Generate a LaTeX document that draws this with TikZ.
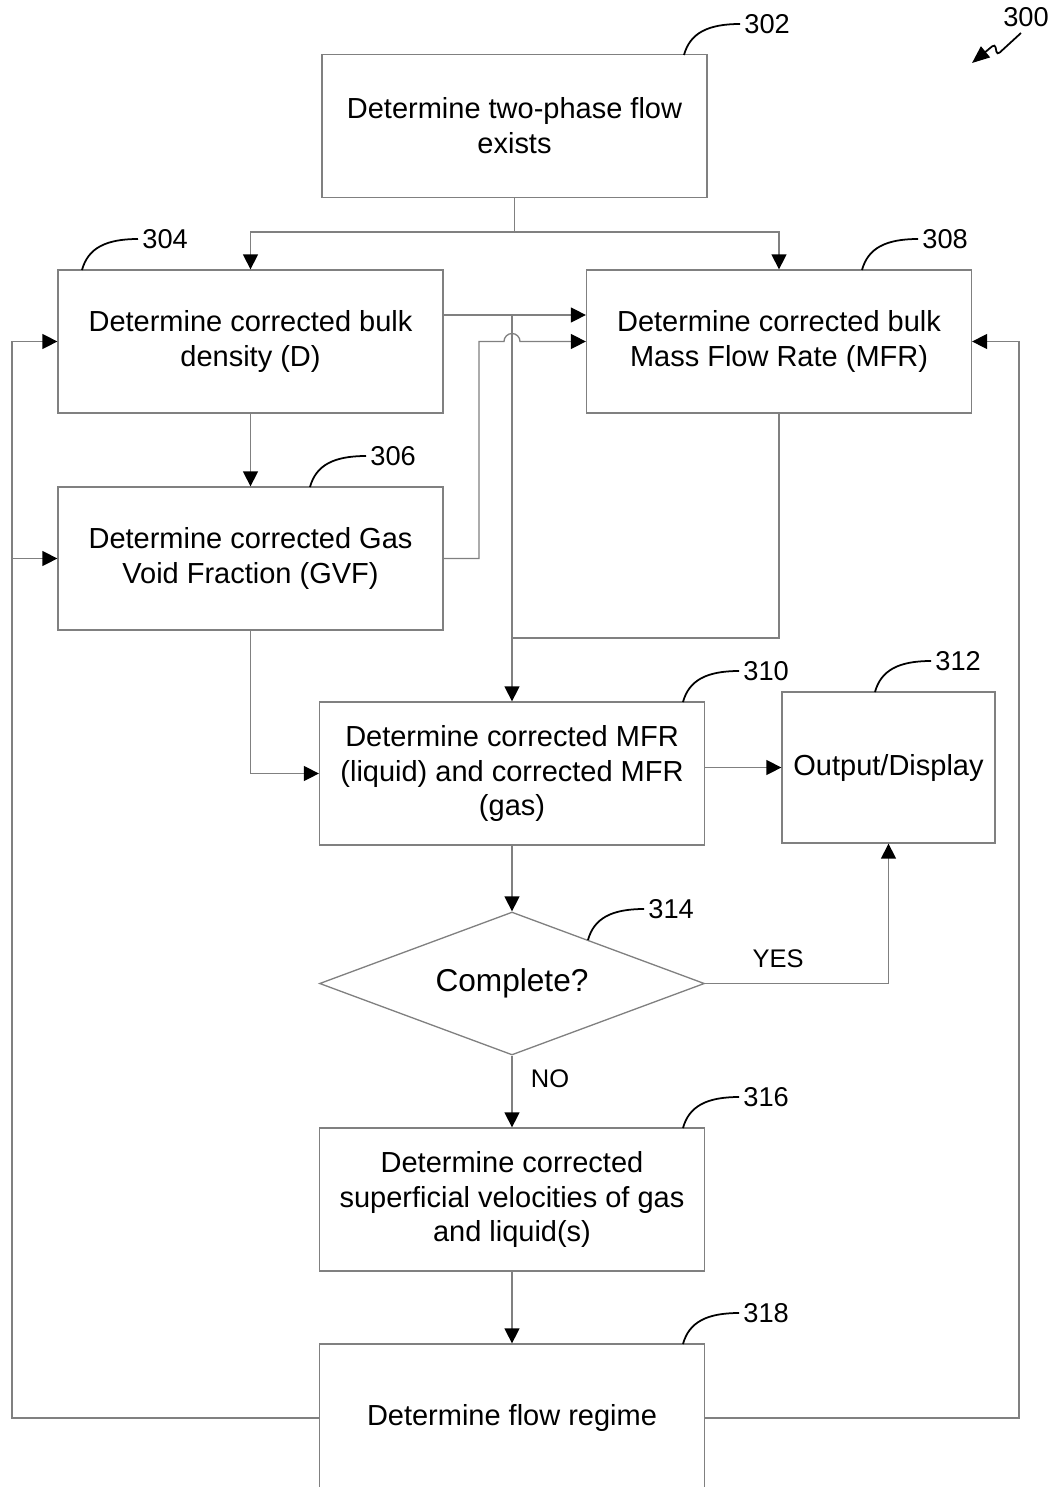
\documentclass[tikz,border=0pt]{standalone}
\usepackage{fontspec}
\setmainfont{Liberation Sans}
\usepackage{tikz}
\usetikzlibrary{
    arrows.meta,
    shapes.geometric,
    positioning
}
\definecolor{boxline}{RGB}{128,128,128}

\begin{document}
\begin{tikzpicture}[x=0.02cm, y=-0.02cm,
    stepbox/.style={draw=boxline, line width=0.75pt, align=center, inner sep=0pt,
        minimum width=7.7cm, minimum height=2.86cm,
        font=\fontsize{16.5}{19.8}\selectfont},
    decision/.style={draw=boxline, line width=0.75pt, shape=diamond, aspect=2.7, inner sep=0pt,
        minimum width=7.7cm, minimum height=2.86cm,
        font=\fontsize{18}{21}\selectfont},
    link/.style={draw=boxline, line width=0.75pt},
    arr/.style={link, -{Triangle[length=8.5pt, width=8.5pt, color=black]}},
    lead/.style={draw=black, line width=1pt},
    refnum/.style={anchor=west, inner sep=2pt, font=\fontsize{15.5}{18}\selectfont},
    answer/.style={font=\fontsize{14.5}{17}\selectfont}
]
    % Page
    \useasboundingbox (0,0) rectangle (1053,1487);

    % Steps
    \node[stepbox] (d302) at (514.5,126) {Determine two-phase flow\\exists};
    \node[stepbox] (d304) at (250.5,341.5) {Determine corrected bulk\\density (D)};
    \node[stepbox] (d308) at (779,341.5) {Determine corrected bulk\\Mass Flow Rate (MFR)};
    \node[stepbox] (d306) at (250.5,558.5) {Determine corrected Gas\\Void Fraction (GVF)};
    \node[stepbox] (d310) at (512,773.5) {Determine corrected MFR\\(liquid) and corrected MFR\\(gas)};
    \node[stepbox, minimum width=4.26cm, minimum height=3.02cm] (d312) at (888.5,767.5) {Output/Display};
    \node[decision] (d314) at (512,983.5) {Complete?};
    \node[stepbox] (d316) at (512,1199.5) {Determine corrected\\superficial velocities of gas\\and liquid(s)};
    \node[stepbox, minimum height=2.96cm] (d318) at (512,1418) {Determine flow regime};

    % Split below 302
    \coordinate (split) at (514.5,232);
    \draw[link] (d302.south) -- (split);
    \draw[arr] (split) -| (d304.north);
    \draw[arr] (split) -| (d308.north);

    % Bulk density to MFR and down to 310
    \coordinate (j1) at (512,315);
    \coordinate (j2) at (512,638);
    \draw[arr] (d304.east |- j1) -- (d308.west |- j1);
    \draw[arr] (j1) -- (d310.north);
    \draw[link] (d308.south) |- (j2);
    \draw[arr] (d304.south) -- (d306.north);

    % GVF to MFR (hop over the vertical line)
    \coordinate (k1) at (479,0);
    \draw[arr] (d306.east) -- (d306.east -| k1) -- (k1 |- d308.west) -- (504,341.5)
        arc[start angle=180, end angle=0, radius=0.16cm] -- (d308.west);
    \draw[arr] (d306.south) |- (d310.west);

    % Output and decision
    \draw[arr] (d310.east |- d312.west) -- (d312.west);
    \draw[arr] (d310.south) -- (d314.north);
    \draw[arr] (d314.east) -| (d312.south);
    \node[answer] (yes) at (778,959) {YES};
    \draw[arr] (d314.south) -- (d316.north);
    \node[answer] (no) at (550,1079) {NO};
    \draw[arr] (d316.south) -- (d318.north);

    % Feedback loops
    \coordinate (lx) at (12,0);
    \coordinate (rx) at (1019,0);
    \draw[arr] (d318.west) -- (d318.west -| lx) |- (d304.west);
    \draw[arr] (lx |- d306.west) -- (d306.west);
    \draw[arr] (d318.east) -- (d318.east -| rx) |- (d308.east);

    % Reference numerals
    \foreach \sx/\sy/\num in {684/55/302, 82/270/304, 310/487/306, 862/270/308,
                              683/702/310, 875/692/312, 588/940/314, 683/1128/316, 683/1344/318} {
        \draw[lead] (\sx,\sy) .. controls (\sx+6,\sy-22) and (\sx+24,\sy-31) .. (\sx+56,\sy-31)
            node[refnum] (n\num) {\num};
    }

    % Figure number
    \node[refnum, anchor=center] (n300) at (1026,17) {300};
    \draw[lead, rounded corners=2pt, -{Triangle[length=10pt, width=8pt]}]
        (1021,33) -- (997,55) -- (995,44) -- (972,63);
\end{tikzpicture}
\end{document}
